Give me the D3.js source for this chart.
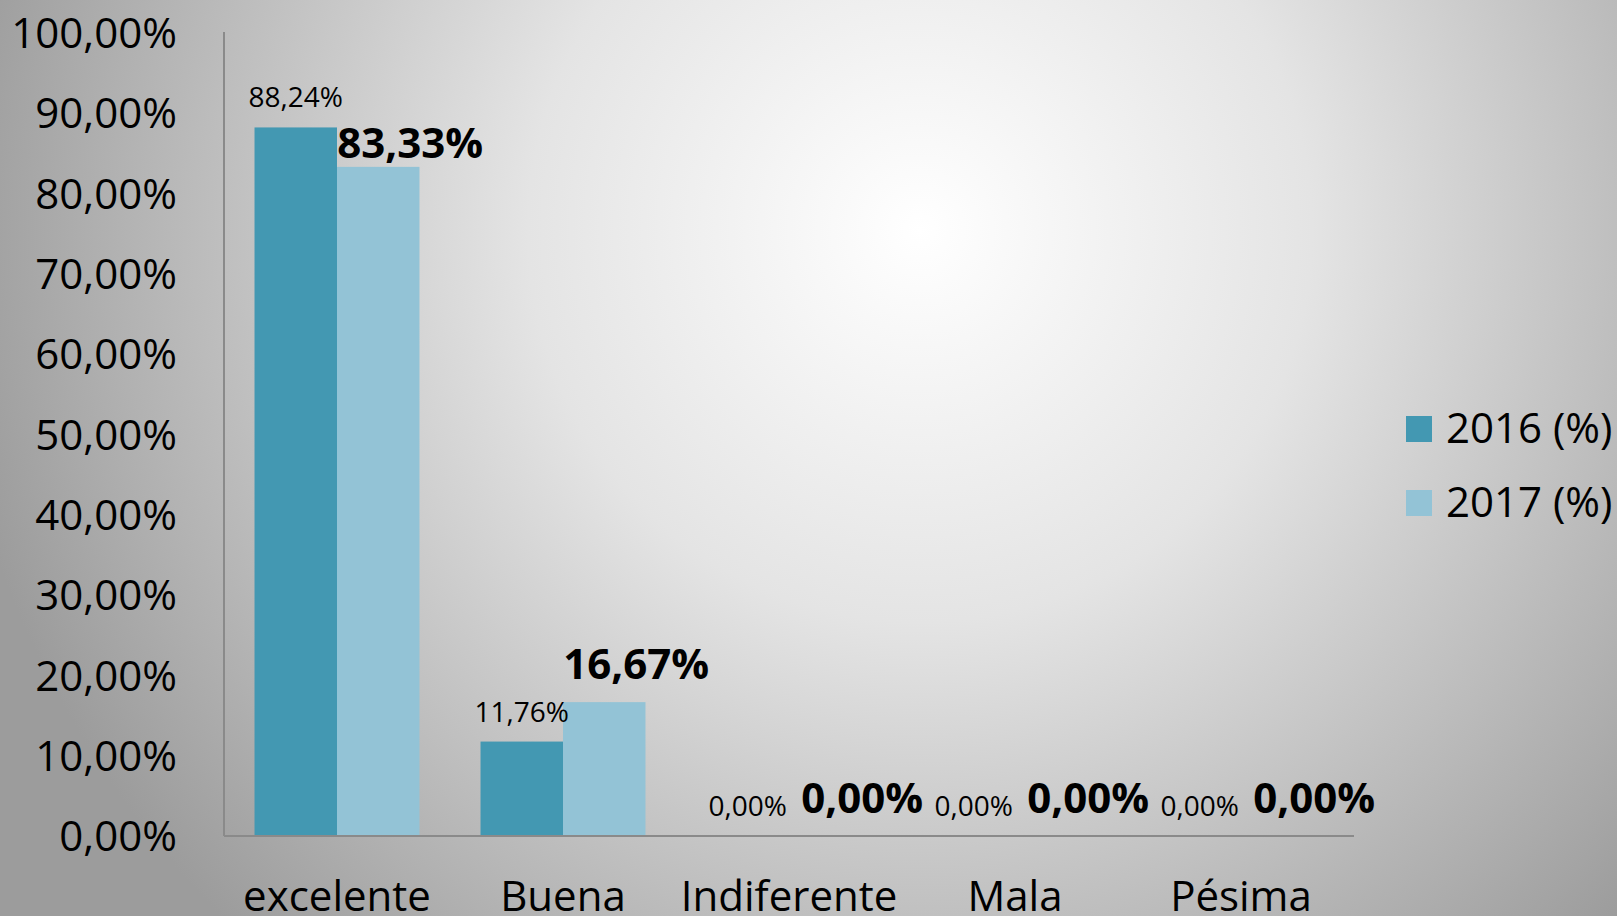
<!DOCTYPE html>
<html>
<head>
<meta charset="utf-8">
<script src="https://cdn.jsdelivr.net/npm/d3@7"></script>
<style>
  html, body { margin: 0; padding: 0; overflow: hidden; }
  svg { display: block; font-family: "Open Sans", sans-serif; }
</style>
</head>
<body>
<svg id="chart" width="1617" height="916"></svg>
<script>
const categories = ["excelente", "Buena", "Indiferente", "Mala", "Pésima"];
const seriesNames = ["2016 (%)", "2017 (%)"];
const values2016 = [88.24, 11.76, 0, 0, 0];
const values2017 = [83.33, 16.67, 0, 0, 0];
const yTicks = [0, 10, 20, 30, 40, 50, 60, 70, 80, 90, 100];
const colors = ["#4398b2", "#93c3d6"];

const svg = d3.select("#chart");
const W = 1617, H = 916;
const margin = {left: 224, right: 263, top: 33, bottom: 80};

// background
const defs = svg.append("defs");
const grad = defs.append("radialGradient")
    .attr("id", "bg")
    .attr("gradientUnits", "userSpaceOnUse")
    .attr("cx", 920).attr("cy", 230).attr("r", 980);
grad.append("stop").attr("offset", "0%").attr("stop-color", "#ffffff");
grad.append("stop").attr("offset", "40%").attr("stop-color", "#e4e4e4");
grad.append("stop").attr("offset", "100%").attr("stop-color", "#9c9c9c");
svg.append("rect").attr("width", W).attr("height", H).attr("fill", "url(#bg)");

const x0 = d3.scaleBand()
    .domain(categories)
    .range([margin.left, W - margin.right])
    .padding(0);
const x1 = d3.scaleBand()
    .domain([0, 1])
    .range([0, x0.bandwidth()])
    .paddingInner(0)
    .paddingOuter(0.37);
const y = d3.scaleLinear()
    .domain([0, 100])
    .range([H - margin.bottom, margin.top]);

const rows = categories.map((c, i) => ({cat: c, vals: [values2016[i], values2017[i]]}));

// y axis labels
const fmt = v => d3.format(".2f")(v).replace(".", ",") + "%";
svg.append("g")
    .selectAll("text")
    .data(yTicks)
    .join("text")
    .attr("x", margin.left - 47)
    .attr("y", d => y(d))
    .attr("dy", "0.36em")
    .attr("text-anchor", "end")
    .attr("font-size", 42)
    .attr("fill", "#000")
    .text(d => fmt(d));

// bars
const groups = svg.append("g")
    .selectAll("g")
    .data(rows)
    .join("g")
    .attr("transform", d => `translate(${x0(d.cat)},0)`);

groups.selectAll("rect")
    .data(d => d.vals.map((v, k) => ({k, v})))
    .join("rect")
    .attr("x", d => x1(d.k))
    .attr("y", d => y(d.v))
    .attr("width", x1.bandwidth())
    .attr("height", d => y(0) - y(d.v))
    .attr("fill", d => colors[d.k]);

// data labels 2016
groups.append("text")
    .attr("x", x1(0) + x1.bandwidth() / 2)
    .attr("y", d => y(d.vals[0]) - 20)
    .attr("text-anchor", "middle")
    .attr("font-size", 28)
    .attr("fill", "#000")
    .text(d => fmt(d.vals[0]));

// data labels 2017 (first one sits lower, near the top of the plot)
groups.append("text")
    .attr("x", x1(1) + x1.bandwidth() / 2 + 32)
    .attr("y", d => y(d.vals[1]) - (d.vals[1] > 50 ? 9 : 23))
    .attr("text-anchor", "middle")
    .attr("font-size", 42)
    .attr("font-weight", "bold")
    .attr("fill", "#000")
    .text(d => fmt(d.vals[1]));

// axes lines
svg.append("line")
    .attr("x1", margin.left).attr("x2", margin.left)
    .attr("y1", y(100) - 1).attr("y2", y(0))
    .attr("stroke", "#8a8a8a").attr("stroke-width", 2);
svg.append("line")
    .attr("x1", margin.left).attr("x2", W - margin.right)
    .attr("y1", y(0)).attr("y2", y(0))
    .attr("stroke", "#8a8a8a").attr("stroke-width", 2);

// category labels
svg.append("g")
    .selectAll("text")
    .data(categories)
    .join("text")
    .attr("x", d => x0(d) + x0.bandwidth() / 2)
    .attr("y", H - 5)
    .attr("text-anchor", "middle")
    .attr("font-size", 42)
    .attr("fill", "#000")
    .text(d => d);

// legend
const legend = svg.append("g")
    .selectAll("g")
    .data(seriesNames)
    .join("g")
    .attr("transform", (d, i) => `translate(1406,${416 + i * 74})`);
legend.append("rect")
    .attr("width", 26).attr("height", 26)
    .attr("fill", (d, i) => colors[i]);
legend.append("text")
    .attr("x", 40).attr("y", 27)
    .attr("font-size", 42)
    .attr("fill", "#000")
    .text(d => d);
</script>
</body>
</html>
